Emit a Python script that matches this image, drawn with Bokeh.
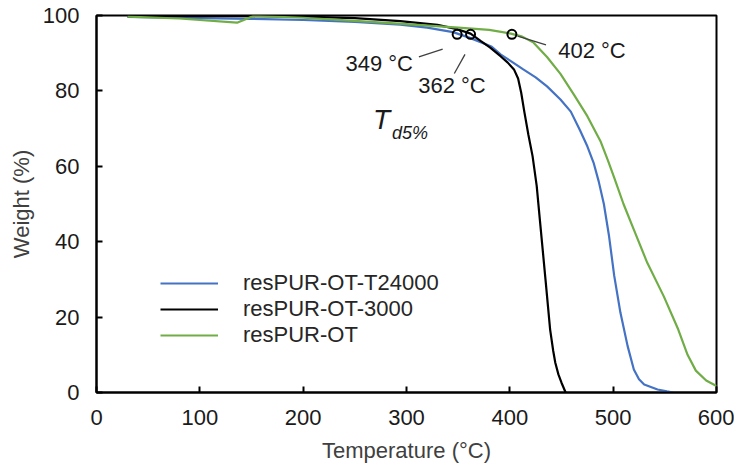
from bokeh.plotting import figure
from bokeh.models import Legend, LegendItem, Range1d, FixedTicker
from bokeh.core.properties import value
from bokeh.embed import file_html
from bokeh.resources import INLINE

# ---- data ----
temp_t24000 = [30, 100, 150, 200, 250, 294, 320, 345, 360, 373, 382, 391, 401, 413, 425, 436,
               449, 459, 468, 475, 481, 486, 491, 496, 501, 507, 514, 520, 525, 530, 543, 552, 558]
weight_t24000 = [99.6, 99.3, 99.1, 98.8, 98.3, 97.6, 96.8, 95.6, 94.2, 92.8, 91.8, 89.7, 87.9,
                 85.7, 83.6, 81.2, 77.7, 74.5, 69.5, 65.3, 61.0, 56.0, 50.0, 41.5, 31.0, 21.2,
                 12.3, 6.1, 3.5, 2.1, 0.8, 0.3, 0.0]

temp_3000 = [30, 100, 150, 200, 250, 294, 330, 350, 362, 372, 381, 391, 398, 404, 408, 411,
             414, 418, 422, 426, 429, 434.5, 439, 442, 444, 447, 450, 454]
weight_3000 = [99.8, 99.8, 99.8, 99.7, 99.3, 98.5, 97.5, 96.3, 95.2, 93.2, 91.5, 89.2, 87.5,
               85.7, 83.3, 79.5, 74.5, 68.3, 62.7, 54.8, 46.0, 30.0, 16.7, 11.0, 7.9, 4.8, 2.6, 0.0]

temp_ot = [30, 80, 136, 152, 200, 250, 300, 350, 380, 401, 412, 423, 436, 449, 462, 475, 488,
           495, 501, 510, 520, 533, 549, 563, 572, 580, 590, 600]
weight_ot = [99.7, 99.2, 98.1, 99.9, 99.4, 98.6, 97.7, 96.8, 96.2, 95.2, 94.4, 92.8, 89.0, 84.5,
             79.0, 73.3, 66.5, 61.5, 57.0, 50.0, 43.2, 34.4, 25.5, 16.7, 10.0, 5.8, 3.2, 1.7]

series_names = ["resPUR-OT-T24000", "resPUR-OT-3000", "resPUR-OT"]

td5_temp = [349, 362, 402]
td5_weight = [95, 95, 95]
td5_labels = ["349 °C", "362 °C", "402 °C"]

x_ticks = [0, 100, 200, 300, 400, 500, 600]
y_ticks = [0, 20, 40, 60, 80, 100]

# annotation placement
label_x = [273.6, 344.0, 479.5]
label_y = [87.4, 81.3, 90.6]
leader_x0 = [312.0, 346.3, 407.6]
leader_y0 = [89.0, 84.6, 94.5]
leader_x1 = [335.0, 356.6, 435.0]
leader_y1 = [91.1, 89.7, 92.2]

FONT = "Liberation Sans"
FS = "22px"
BLUE = "#4472C4"
GREEN = "#70AD47"

p = figure(width=734, height=465, x_range=Range1d(0, 600), y_range=Range1d(0, 100),
           output_backend="svg", toolbar_location=None,
           min_border_left=96, min_border_right=18, min_border_top=15, min_border_bottom=73)
p.grid.visible = False
p.outline_line_color = "black"
p.outline_line_width = 2
p.background_fill_color = "white"
p.border_fill_color = "white"

for ax in (p.xaxis[0], p.yaxis[0]):
    ax.axis_line_width = 2
    ax.axis_line_color = "black"
    ax.major_tick_in = 6
    ax.major_tick_out = 0
    ax.major_tick_line_width = 2
    ax.minor_tick_line_color = None
    ax.major_label_text_font = FONT
    ax.major_label_text_font_size = FS
    ax.major_label_text_color = "#1a1a1a"
    ax.axis_label_text_font = FONT
    ax.axis_label_text_font_size = FS
    ax.axis_label_text_font_style = "normal"
    ax.axis_label_text_color = "#404040"

p.xaxis.ticker = FixedTicker(ticks=x_ticks)
p.yaxis.ticker = FixedTicker(ticks=y_ticks)
p.xaxis.axis_label = "Temperature (°C)"
p.yaxis.axis_label = "Weight (%)"
p.xaxis.major_label_standoff = 17
p.xaxis.axis_label_standoff = 10
p.yaxis.major_label_standoff = 17
p.yaxis.axis_label_standoff = 6

r1 = p.line(temp_t24000, weight_t24000, line_color=BLUE, line_width=2.2)
r2 = p.line(temp_3000, weight_3000, line_color="black", line_width=2.2)
r3 = p.line(temp_ot, weight_ot, line_color=GREEN, line_width=2.2)

# T_d5% markers and leader lines
p.segment(x0=leader_x0, y0=leader_y0, x1=leader_x1, y1=leader_y1, line_color="#404040", line_width=1.3)
p.scatter(td5_temp, td5_weight, size=9, marker="circle", fill_color=None,
          line_color="black", line_width=2)
p.text(x=label_x, y=label_y, text=td5_labels, text_font=value(FONT), text_font_size=FS,
       text_align="center", text_baseline="middle", text_color="#1a1a1a")

p.text(x=[267.5], y=[72.5], text=["T"], text_font=value(FONT), text_font_size="28px",
       text_font_style="italic", text_align="left", text_baseline="middle", text_color="#1a1a1a")
p.text(x=[286.0], y=[68.8], text=["d5%"], text_font=value(FONT), text_font_size="18px",
       text_font_style="italic", text_align="left", text_baseline="middle", text_color="#1a1a1a")

legend = Legend(items=[LegendItem(label=series_names[0], renderers=[r1]),
                       LegendItem(label=series_names[1], renderers=[r2]),
                       LegendItem(label=series_names[2], renderers=[r3])],
                location=(64, 44), orientation="vertical")
legend.border_line_color = None
legend.background_fill_alpha = 0
legend.padding = 0
legend.margin = 0
legend.spacing = 0
legend.glyph_width = 58
legend.glyph_height = 26
legend.label_height = 26
legend.label_standoff = 25
legend.label_text_font = FONT
legend.label_text_font_size = FS
legend.label_text_color = "#262626"
p.add_layout(legend)

open("out.html", "w").write(file_html(p, INLINE))
